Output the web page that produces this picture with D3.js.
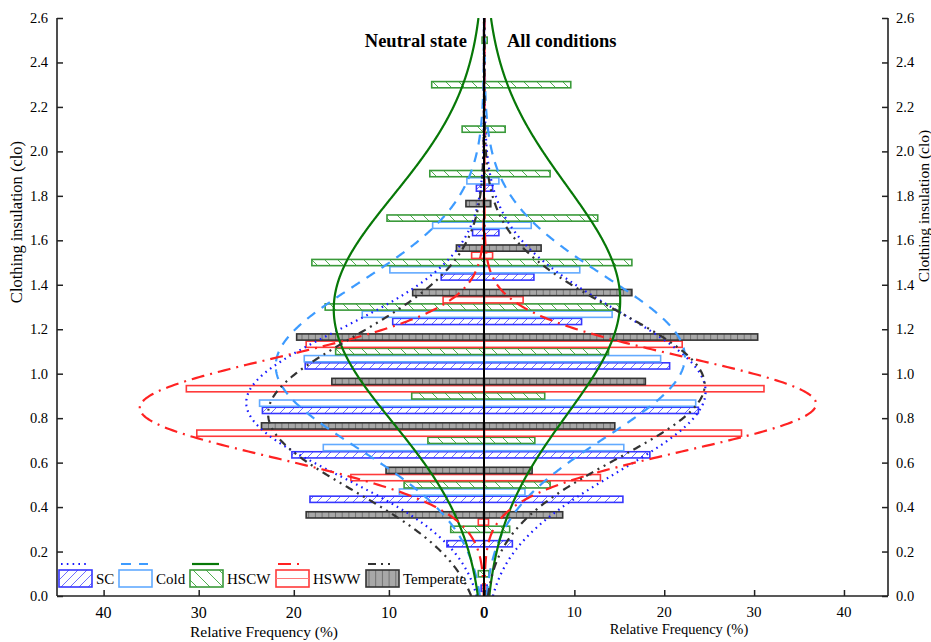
<!DOCTYPE html>
<html>
<head>
<meta charset="utf-8">
<script src="https://cdn.jsdelivr.net/npm/d3@7"></script>
<style>
  html, body { margin: 0; padding: 0; background: #fff; }
  svg text { font-family: "Liberation Serif", "Times New Roman", serif; fill: #000; }
</style>
</head>
<body>
<svg id="chart" width="931" height="642"></svg>
<script>
// Clothing-insulation bins (centre of each 0.2 clo bin)
const binCenters = [0.1, 0.3, 0.5, 0.7, 0.9, 1.1, 1.3, 1.5, 1.7, 1.9, 2.1, 2.3, 2.5];
const categories = ["SC", "Cold", "HSCW", "HSWW", "Temperate"];

// Relative frequency (%) — neutral state (left panel)
const neutralSC        = [0.3, 3.9, 18.3, 20.2, 23.3, 18.8, 9.6, 4.5, 1.2, 0.8, 0, 0, 0];
const neutralCold      = [0, 0, 8.9, 16.9, 23.6, 18.9, 12.8, 9.9, 5.4, 1.8, 0, 0, 0];
const neutralHSCW      = [0.6, 3.5, 8.4, 5.9, 7.6, 15.6, 16.7, 18.1, 10.2, 5.7, 2.3, 5.5, 0.2];
const neutralHSWW      = [0, 0.6, 14.0, 30.2, 31.3, 18.7, 4.3, 1.3, 0, 0, 0, 0, 0];
const neutralTemperate = [0, 18.7, 10.3, 23.4, 16.0, 19.7, 7.5, 2.9, 1.9, 0, 0, 0, 0];

// Relative frequency (%) — all conditions (right panel)
const allSC        = [0.3, 3.1, 15.4, 18.4, 23.8, 20.6, 10.8, 5.5, 1.6, 0.9, 0, 0, 0];
const allCold      = [0, 0, 4.5, 15.5, 23.5, 19.6, 14.2, 10.6, 5.2, 1.6, 0, 0, 0];
const allHSCW      = [0.5, 2.8, 7.3, 5.6, 6.7, 13.8, 15.0, 16.4, 12.6, 7.3, 2.3, 9.6, 0.3];
const allHSWW      = [0, 0.45, 12.9, 28.6, 31.1, 22.0, 4.3, 0.9, 0, 0, 0, 0, 0];
const allTemperate = [0, 8.7, 5.3, 14.5, 17.9, 30.4, 16.4, 6.3, 0.7, 0, 0, 0, 0];

// Normal-distribution fits: [mean clo, standard deviation, peak %]
const neutralFitSC        = [0.87, 0.33, 25.0];
const neutralFitCold      = [1.035, 0.37, 21.9];
const neutralFitHSCW      = [1.29, 0.51, 15.8];
const neutralFitHSWW      = [0.846, 0.225, 36.2];
const neutralFitTemperate = [0.82, 0.345, 22.7];
const allFitSC        = [0.92, 0.36, 24.6];
const allFitCold      = [1.075, 0.36, 22.3];
const allFitHSCW      = [1.33, 0.515, 15.1];
const allFitHSWW      = [0.864, 0.21, 36.9];
const allFitTemperate = [0.95, 0.33, 24.5];

const xTicks = [0, 10, 20, 30, 40];
const yTicks = [0.0, 0.2, 0.4, 0.6, 0.8, 1.0, 1.2, 1.4, 1.6, 1.8, 2.0, 2.2, 2.4, 2.6];

const neutralBars = [neutralSC, neutralCold, neutralHSCW, neutralHSWW, neutralTemperate];
const allBars = [allSC, allCold, allHSCW, allHSWW, allTemperate];
const neutralFits = [neutralFitSC, neutralFitCold, neutralFitHSCW, neutralFitHSWW, neutralFitTemperate];
const allFits = [allFitSC, allFitCold, allFitHSCW, allFitHSWW, allFitTemperate];

// Styling per category
const style = {
  SC:        { stroke: "#3636ff", fill: "url(#hatchSC)",   curve: "#1a1aff", dash: "1.6,4.2", width: 2.2 },
  Cold:      { stroke: "#62aaff", fill: "#ffffff",         curve: "#3d9bff", dash: "10,8",    width: 2.2 },
  HSCW:      { stroke: "#3a9a3a", fill: "url(#hatchHSCW)", curve: "#077807", dash: null,      width: 2.2 },
  HSWW:      { stroke: "#ff3a3a", fill: "#ffffff",         curve: "#ff2222", dash: "13,6,2,6", width: 2.2 },
  Temperate: { stroke: "#333333", fill: "url(#gridTemp)",  curve: "#333333", dash: "8,5,2,5,2,5", width: 2.2 }
};

const svg = d3.select("#chart");
const plotTop = 18, plotBottom = 596, plotLeft = 57, plotMid = 484, plotRight = 888;

const y = d3.scaleLinear().domain([0, 2.6]).range([plotBottom, plotTop]);
const xL = d3.scaleLinear().domain([44.9, 0]).range([plotLeft, plotMid]);
const xR = d3.scaleLinear().domain([0, 44.9]).range([plotMid + 0.5, plotRight]);

// Fill patterns
const defs = svg.append("defs");
const pSC = defs.append("pattern").attr("id", "hatchSC").attr("patternUnits", "userSpaceOnUse")
  .attr("width", 9).attr("height", 9);
pSC.append("rect").attr("width", 9).attr("height", 9).attr("fill", "#fff");
pSC.append("path").attr("d", "M0,9 L9,0 M-2,2 L2,-2 M7,11 L11,7").attr("stroke", "#6f6fff").attr("stroke-width", 1);

const pG = defs.append("pattern").attr("id", "hatchHSCW").attr("patternUnits", "userSpaceOnUse")
  .attr("width", 13).attr("height", 13);
pG.append("rect").attr("width", 13).attr("height", 13).attr("fill", "#fff");
pG.append("path").attr("d", "M0,0 L13,13 M-2,11 L2,15 M11,-2 L15,2").attr("stroke", "#4fae4f").attr("stroke-width", 1);

const pT = defs.append("pattern").attr("id", "gridTemp").attr("patternUnits", "userSpaceOnUse")
  .attr("width", 6.7).attr("height", 40);
pT.append("rect").attr("width", 6.7).attr("height", 40).attr("fill", "#a8a8a8");
pT.append("path").attr("d", "M0.5,0 L0.5,40").attr("stroke", "#6a6a6a").attr("stroke-width", 0.9);

defs.append("clipPath").attr("id", "plotClip").append("rect")
  .attr("x", plotLeft).attr("y", plotTop).attr("width", plotRight - plotLeft).attr("height", plotBottom - plotTop);

// Bars: within each 0.2 clo bin the five climates are stacked SC (lowest) to Temperate (highest)
const barStep = 0.0325, barH = 0.028;
function drawBars(series, xs, side) {
  const g = svg.append("g");
  categories.forEach((cat, ci) => {
    const st = style[cat];
    const rows = binCenters.map((c, i) => ({ c: c + (ci - 2) * barStep, v: series[ci][i] }))
      .filter(d => d.v > 0);
    g.selectAll(null).data(rows).enter().append("rect")
      .attr("x", d => side < 0 ? xs(d.v) : xs(0))
      .attr("width", d => Math.abs(xs(d.v) - xs(0)))
      .attr("y", d => y(d.c + barH / 2))
      .attr("height", d => y(d.c - barH / 2) - y(d.c + barH / 2))
      .attr("fill", st.fill)
      .attr("stroke", st.stroke)
      .attr("stroke-width", 1.6);
  });
}
drawBars(neutralBars, xL, -1);
drawBars(allBars, xR, 1);

// Fitted normal curves
const cloSteps = d3.range(0, 2.6001, 0.005);
function drawCurves(fits, xs) {
  const g = svg.append("g").attr("clip-path", "url(#plotClip)");
  categories.forEach((cat, ci) => {
    const [mu, sd, peak] = fits[ci];
    const st = style[cat];
    const line = d3.line()
      .x(c => xs(peak * Math.exp(-((c - mu) ** 2) / (2 * sd * sd))))
      .y(c => y(c));
    g.append("path").attr("d", line(cloSteps))
      .attr("fill", "none").attr("stroke", st.curve)
      .attr("stroke-width", st.width)
      .attr("stroke-dasharray", st.dash);
  });
}
drawCurves(neutralFits, xL);
drawCurves(allFits, xR);

// Axes
const axisColor = "#222";
const axLeft = svg.append("g").attr("transform", `translate(${plotLeft},0)`)
  .call(d3.axisRight(y).tickValues(yTicks).tickSize(6).tickFormat(""));
const axRight = svg.append("g").attr("transform", `translate(${plotRight},0)`)
  .call(d3.axisLeft(y).tickValues(yTicks).tickSize(6).tickFormat(""));
const axBotL = svg.append("g").attr("transform", `translate(0,${plotBottom})`)
  .call(d3.axisTop(xL).tickValues(xTicks).tickSize(6).tickFormat(""));
const axBotR = svg.append("g").attr("transform", `translate(0,${plotBottom})`)
  .call(d3.axisTop(xR).tickValues(xTicks).tickSize(6).tickFormat(""));
[axLeft, axRight, axBotL, axBotR].forEach(a => {
  a.select(".domain").remove();
  a.selectAll("line").attr("stroke", axisColor).attr("stroke-width", 1.5);
});
svg.append("line").attr("x1", plotLeft).attr("x2", plotLeft).attr("y1", plotTop).attr("y2", plotBottom)
  .attr("stroke", axisColor).attr("stroke-width", 1.6);
svg.append("line").attr("x1", plotRight).attr("x2", plotRight).attr("y1", plotTop).attr("y2", plotBottom)
  .attr("stroke", axisColor).attr("stroke-width", 1.6);
svg.append("line").attr("x1", plotLeft).attr("x2", plotRight).attr("y1", plotBottom).attr("y2", plotBottom)
  .attr("stroke", axisColor).attr("stroke-width", 1.6);
// shared zero line between the two panels
svg.append("line").attr("x1", plotMid).attr("x2", plotMid).attr("y1", plotTop).attr("y2", plotBottom)
  .attr("stroke", "#000").attr("stroke-width", 2);

// Tick labels
svg.append("g").selectAll("text").data(yTicks).enter().append("text")
  .attr("x", 48).attr("y", d => y(d) + 5).attr("text-anchor", "end")
  .attr("font-size", 14.5).text(d => d.toFixed(1));
svg.append("g").selectAll("text").data(yTicks).enter().append("text")
  .attr("x", 896).attr("y", d => y(d) + 5).attr("text-anchor", "start")
  .attr("font-size", 14.5).text(d => d.toFixed(1));
svg.append("g").selectAll("text").data(xTicks).enter().append("text")
  .attr("x", d => xL(d)).attr("y", 618).attr("text-anchor", "middle")
  .attr("font-size", 16).text(d => d);
svg.append("g").selectAll("text").data(xTicks).enter().append("text")
  .attr("x", d => xR(d)).attr("y", 617).attr("text-anchor", "middle")
  .attr("font-size", 15).text(d => d);

// Axis titles
svg.append("text").attr("x", 264).attr("y", 637).attr("text-anchor", "middle")
  .attr("font-size", 15.5).text("Relative Frequency (%)");
svg.append("text").attr("x", 679).attr("y", 634).attr("text-anchor", "middle")
  .attr("font-size", 14.5).text("Relative Frequency (%)");
svg.append("text").attr("transform", "translate(22,222) rotate(-90)").attr("text-anchor", "middle")
  .attr("font-size", 16.5).text("Clothing insulation (clo)");
svg.append("text").attr("transform", "translate(929,206) rotate(-90)").attr("text-anchor", "middle")
  .attr("font-size", 15.5).text("Clothing insulation (clo)");

// Panel labels
svg.append("text").attr("x", 467).attr("y", 47).attr("text-anchor", "end")
  .attr("font-size", 18.5).attr("font-weight", "bold").text("Neutral state");
svg.append("text").attr("x", 507).attr("y", 47).attr("text-anchor", "start")
  .attr("font-size", 18.5).attr("font-weight", "bold").text("All conditions");

// Legend: line sample above a fill swatch for each climate
const legendX = [59, 119, 190, 276, 366];
const lg = svg.append("g");
categories.forEach((cat, ci) => {
  const st = style[cat];
  const x0 = legendX[ci];
  lg.append("line").attr("x1", x0 + 2).attr("x2", x0 + 29).attr("y1", 564).attr("y2", 564)
    .attr("stroke", st.curve).attr("stroke-width", st.width).attr("stroke-dasharray", st.dash);
  lg.append("rect").attr("x", x0).attr("y", 570).attr("width", 33).attr("height", 17)
    .attr("fill", st.fill).attr("stroke", st.stroke).attr("stroke-width", 1.6);
  if (cat === "HSWW") {
    lg.append("line").attr("x1", x0).attr("x2", x0 + 33).attr("y1", 578.5).attr("y2", 578.5)
      .attr("stroke", "#ff7a7a").attr("stroke-width", 1);
  }
  lg.append("text").attr("x", x0 + 37).attr("y", 584).attr("font-size", 15).text(cat);
});
</script>
</body>
</html>
